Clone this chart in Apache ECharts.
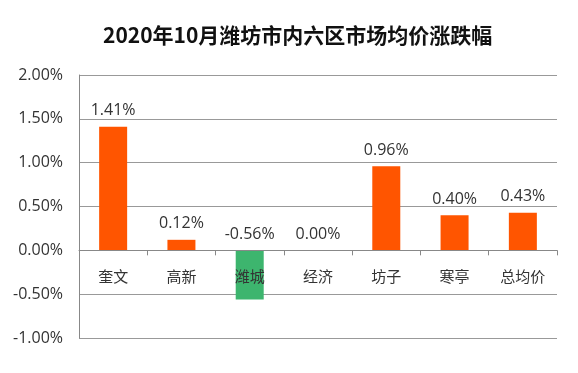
<!DOCTYPE html>
<html><head><meta charset="utf-8">
<script src="https://cdn.jsdelivr.net/npm/echarts@6/dist/echarts.min.js"></script>
<style>html,body{margin:0;padding:0;background:#fff}#c{width:578px;height:373px}</style>
</head><body><div id="c"></div>
<script>
const categories = ['奎文','高新','潍城','经济','坊子','寒亭','总均价'];
const changePct = [1.41, 0.12, -0.56, 0.00, 0.96, 0.40, 0.43];
const yTicks = {min: -1, max: 2, interval: 0.5};
const titleText = '2020年10月潍坊市内六区市场均价涨跌幅';

const font = '"Noto Sans CJK SC", "Microsoft YaHei", sans-serif';
const chart = echarts.init(document.getElementById('c'));
chart.setOption({
  animation: false,
  title: {text: titleText, left: 98, top: 20, textStyle: {fontFamily: font, fontSize: 21, fontWeight: 'bold', color: '#111'}},
  grid: {left: 79, right: 21, top: 75, bottom: 35, containLabel: false},
  xAxis: {
    type: 'category', data: categories, position: 'bottom', offset: 0, z: 10,
    axisLine: {show: true, onZero: false, lineStyle: {color: '#888', width: 1}},
    axisTick: {show: true, length: 5, lineStyle: {color: '#888'}},
    axisLabel: {margin: 18, fontSize: 15, color: '#333', fontFamily: font}
  },
  yAxis: {
    type: 'value', min: yTicks.min, max: yTicks.max, interval: yTicks.interval,
    axisLine: {show: true, onZero: false, lineStyle: {color: '#888'}},
    axisTick: {show: false},
    splitLine: {lineStyle: {color: '#999', width: 1}},
    axisLabel: {margin: 16, fontSize: 16, color: '#333', fontFamily: '"Open Sans", sans-serif',
      formatter: v => v.toFixed(2) + '%'}
  },
  series: [{
    type: 'bar', barWidth: 28, z: 2,
    data: changePct.map(v => ({value: v, itemStyle: {color: v < 0 ? '#3DB56E' : '#FF5500'}})),
    label: {show: true, position: 'top', distance: 8, fontSize: 16, color: '#333', fontFamily: '"Open Sans", sans-serif',
      formatter: p => p.value.toFixed(2) + '%'}
  }]
});
// place the category axis on the zero line using the value scale
const zeroY = chart.convertToPixel({yAxisIndex: 0}, 0);
const bottomY = chart.convertToPixel({yAxisIndex: 0}, yTicks.min);
chart.setOption({xAxis: {offset: zeroY - bottomY}});
</script></body></html>
